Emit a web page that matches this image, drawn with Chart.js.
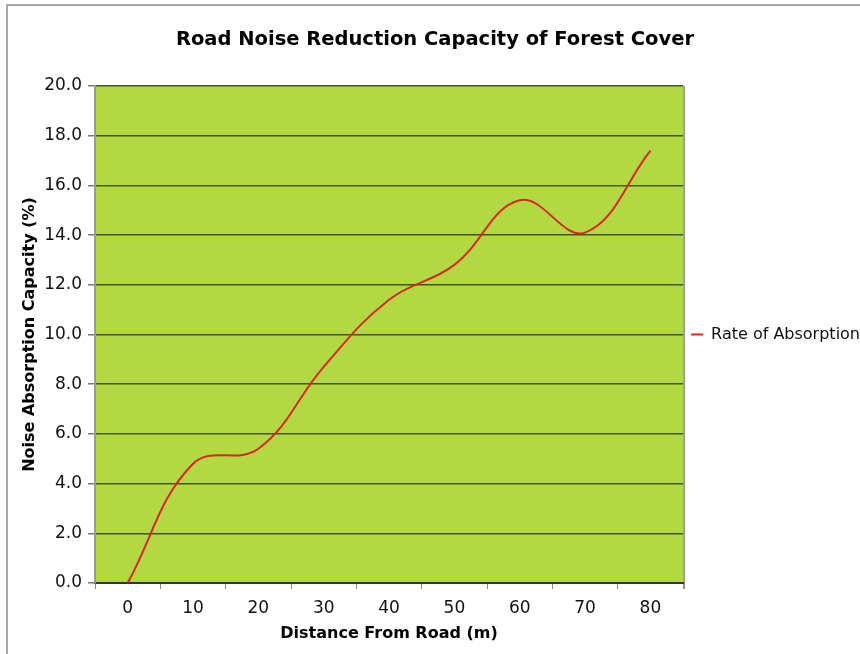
<!DOCTYPE html>
<html>
<head>
<meta charset="utf-8">
<script src="https://cdn.jsdelivr.net/npm/chart.js@4.4.1/dist/chart.umd.min.js"></script>
<style>
  html, body { margin: 0; padding: 0; background: #fff; }
  #wrap { position: relative; width: 860px; height: 654px; overflow: hidden; }
  #frame { position: absolute; left: 6px; top: 4px; right: -10px; bottom: -10px;
           border-left: 2px solid #a8a8a8; border-top: 2px solid #a8a8a8; }
  canvas { position: absolute; left: 0; top: 0; }
</style>
</head>
<body>
<div id="wrap">
  <div id="frame"></div>
  <canvas id="grafico" width="860" height="654"></canvas>
</div>
<script>
// distance from road (m)
const distancias = ['0', '10', '20', '30', '40', '50', '60', '70', '80'];
// rate of absorption (%)
const absorcion = [0, 4.8, 5.4, 8.7, 11.4, 12.8, 15.4, 14.1, 17.4];
const nombreSerie = 'Rate of Absorption';

const verde = '#b3d942';
const rojo = '#d8261c';
const fuente = "Verdana, 'DejaVu Sans', sans-serif";

// paints the green plot area and the grey right edge
const fondoArea = {
    id: 'fondoArea',
    beforeDraw(chart) {
        const { ctx, chartArea: a } = chart;
        ctx.save();
        ctx.fillStyle = verde;
        ctx.fillRect(a.left, a.top, a.right - a.left, a.bottom - a.top);
        ctx.strokeStyle = '#9a9a9a';
        ctx.lineWidth = 2;
        ctx.beginPath();
        ctx.moveTo(a.right + 1, a.top);
        ctx.lineTo(a.right + 1, a.bottom + 6);
        ctx.stroke();
        ctx.restore();
    }
};

new Chart(document.getElementById('grafico').getContext('2d'), {
    type: 'line',
    data: {
        labels: distancias,
        datasets: [{
            label: nombreSerie,
            data: absorcion,
            borderColor: rojo,
            backgroundColor: rojo,
            borderWidth: 2,
            pointRadius: 0,
            tension: 0.4,
            fill: false
        }]
    },
    options: {
        responsive: false,
        animation: false,
        layout: { padding: { left: 0, right: -10, top: 0, bottom: 0 } },
        plugins: {
            title: {
                display: true,
                text: 'Road Noise Reduction Capacity of Forest Cover',
                color: '#000',
                font: { family: fuente, size: 19.5, weight: 'bold' },
                padding: { top: 28, bottom: 34.6 }
            },
            legend: {
                position: 'right',
                fullSize: false,
                labels: {
                    usePointStyle: true,
                    pointStyle: 'line',
                    pointStyleWidth: 12,
                    boxHeight: 12,
                    color: '#111',
                    font: { family: fuente, size: 16 },
                    padding: 8
                }
            },
            tooltip: { enabled: false }
        },
        scales: {
            x: {
                offset: true,
                grid: {
                    offset: true,
                    drawOnChartArea: false,
                    drawTicks: true,
                    tickLength: 6,
                    color: '#8a8a8a'
                },
                border: { color: '#333', width: 2 },
                ticks: {
                    color: '#111',
                    font: { family: fuente, size: 17 },
                    padding: 9,
                    maxRotation: 0
                },
                title: {
                    display: true,
                    text: 'Distance From Road (m)',
                    color: '#000',
                    font: { family: fuente, size: 16, weight: 'bold' },
                    padding: { top: 0, bottom: 11 }
                },
                afterFit(scale) { scale.height = 71; }
            },
            y: {
                min: 0,
                max: 20,
                grid: {
                    color: '#45551a',
                    lineWidth: 1.5,
                    drawTicks: true,
                    tickLength: 7,
                    tickColor: '#777'
                },
                border: { color: '#9a9a9a', width: 2 },
                ticks: {
                    stepSize: 2,
                    color: '#111',
                    font: { family: fuente, size: 17 },
                    padding: 6,
                    callback: v => v.toFixed(1)
                },
                title: {
                    display: true,
                    text: 'Noise Absorption Capacity (%)',
                    color: '#000',
                    font: { family: fuente, size: 16, weight: 'bold' },
                    padding: { top: 20.5, bottom: 0 }
                },
                afterFit(scale) { scale.width = 95; }
            }
        }
    },
    plugins: [fondoArea]
});
</script>
</body>
</html>
